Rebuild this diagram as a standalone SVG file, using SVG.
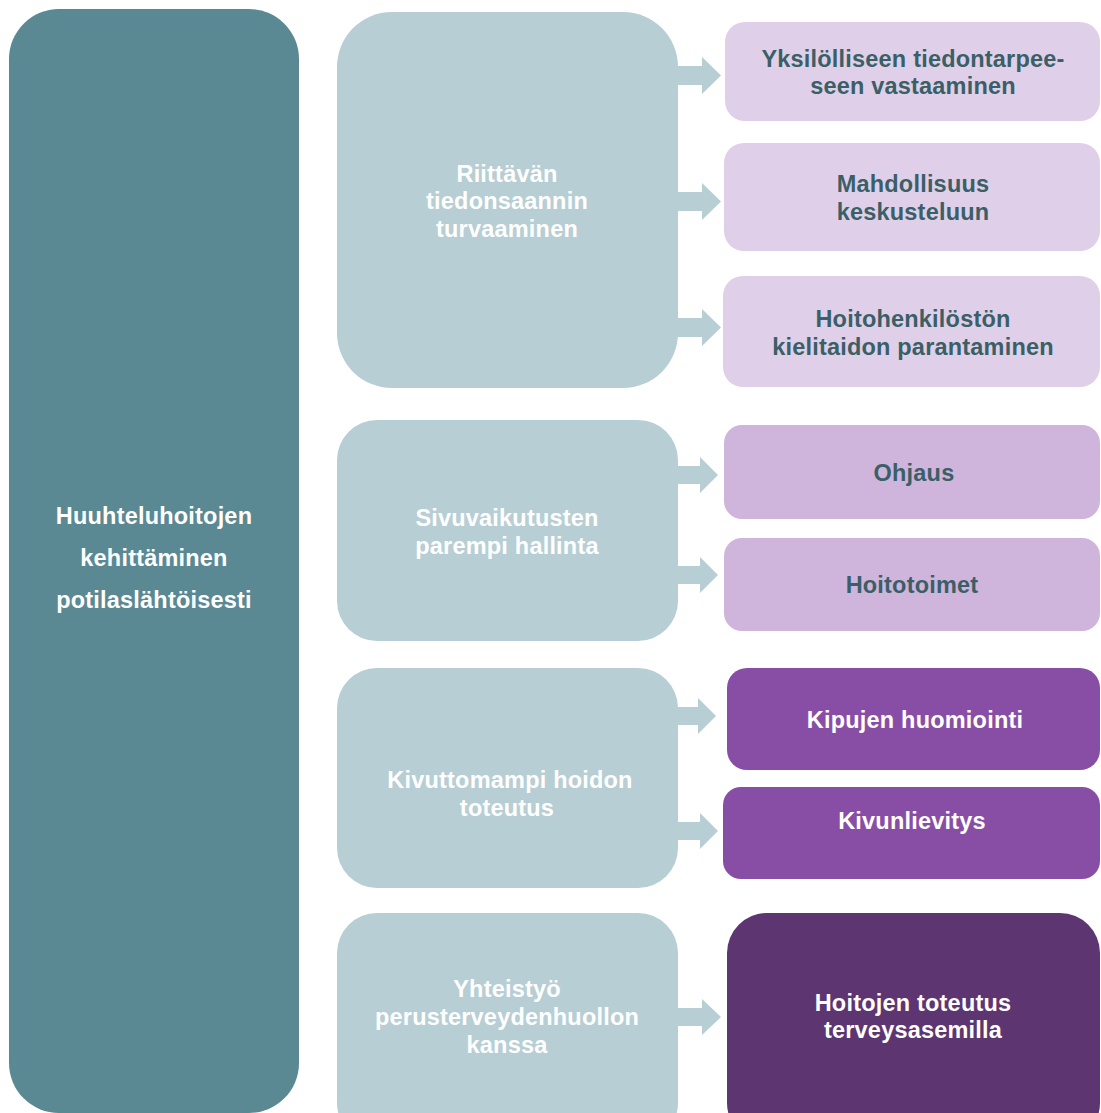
<svg xmlns="http://www.w3.org/2000/svg" width="1101" height="1113" viewBox="0 0 1101 1113">
<style>
text{font-family:"Liberation Sans",Arial,sans-serif;font-weight:bold;font-size:23.5px;letter-spacing:0.2px;text-anchor:middle}
.w{fill:#ffffff}
.d{fill:#3A5F66}
.arr{fill:#B7CED4}
</style>
<rect width="1101" height="1113" fill="#ffffff"/>
<g id="root">
<rect x="9" y="9" width="290" height="1104" rx="50" fill="#5A8893"/>
<text class="w" x="154" y="524">Huuhteluhoitojen</text>
<text class="w" x="154" y="566">kehittäminen</text>
<text class="w" x="154" y="608">potilaslähtöisesti</text>
</g>
<g id="connectors">
<polygon class="arr" points="676,66 702,66 702,57 721,75.5 702,94 702,85 676,85"/>
<polygon class="arr" points="676,192 702,192 702,183 721,201.5 702,220 702,211 676,211"/>
<polygon class="arr" points="676,318 702,318 702,309 721,327.5 702,346 702,337 676,337"/>
<polygon class="arr" points="676,466 700,466 700,457 718,475 700,493 700,484 676,484"/>
<polygon class="arr" points="676,566 700,566 700,557 718,575 700,593 700,584 676,584"/>
<polygon class="arr" points="676,707 698,707 698,698 716,716 698,734 698,725 676,725"/>
<polygon class="arr" points="676,822 700,822 700,813 718,831 700,849 700,840 676,840"/>
<polygon class="arr" points="676,1008 702,1008 702,999 721,1017 702,1035 702,1026 676,1026"/>
</g>
<g id="mid1">
<rect x="337" y="12" width="341" height="376" rx="55" fill="#B7CED4"/>
<text class="w" x="507" y="182">Riittävän</text>
<text class="w" x="507" y="209">tiedonsaannin</text>
<text class="w" x="507" y="237">turvaaminen</text>
</g>
<g id="mid2">
<rect x="337" y="420" width="341" height="221" rx="40" fill="#B7CED4"/>
<text class="w" x="507" y="526">Sivuvaikutusten</text>
<text class="w" x="507" y="554">parempi hallinta</text>
</g>
<g id="mid3">
<rect x="337" y="668" width="341" height="220" rx="40" fill="#B7CED4"/>
<text class="w" x="510" y="788">Kivuttomampi hoidon</text>
<text class="w" x="507" y="816">toteutus</text>
</g>
<g id="mid4">
<rect x="337" y="913" width="341" height="230" rx="40" fill="#B7CED4"/>
<text class="w" x="507" y="997">Yhteistyö</text>
<text class="w" x="507" y="1025">perusterveydenhuollon</text>
<text class="w" x="507" y="1053">kanssa</text>
</g>
<g id="a">
<rect x="725" y="22" width="375" height="99" rx="20" fill="#E0CFE8"/>
<text class="d" x="913" y="67">Yksilölliseen tiedontarpee-</text>
<text class="d" x="913" y="94">seen vastaaminen</text>
</g>
<g id="b">
<rect x="724" y="143" width="376" height="108" rx="20" fill="#E0CFE8"/>
<text class="d" x="913" y="192">Mahdollisuus</text>
<text class="d" x="913" y="220">keskusteluun</text>
</g>
<g id="c">
<rect x="723" y="276" width="377" height="111" rx="20" fill="#E0CFE8"/>
<text class="d" x="913" y="327">Hoitohenkilöstön</text>
<text class="d" x="913" y="355">kielitaidon parantaminen</text>
</g>
<g id="d">
<rect x="724" y="425" width="376" height="94" rx="18" fill="#CFB4DC"/>
<text class="d" x="914" y="481">Ohjaus</text>
</g>
<g id="e">
<rect x="724" y="538" width="376" height="93" rx="18" fill="#CFB4DC"/>
<text class="d" x="912" y="593">Hoitotoimet</text>
</g>
<g id="f">
<rect x="727" y="668" width="373" height="102" rx="20" fill="#884EA6"/>
<text class="w" x="915" y="728">Kipujen huomiointi</text>
</g>
<g id="g">
<rect x="723" y="787" width="377" height="92" rx="18" fill="#884EA6"/>
<text class="w" x="912" y="829">Kivunlievitys</text>
</g>
<g id="h">
<rect x="727" y="913" width="373" height="230" rx="40" fill="#5C3571"/>
<text class="w" x="913" y="1011">Hoitojen toteutus</text>
<text class="w" x="913" y="1038">terveysasemilla</text>
</g>
</svg>
